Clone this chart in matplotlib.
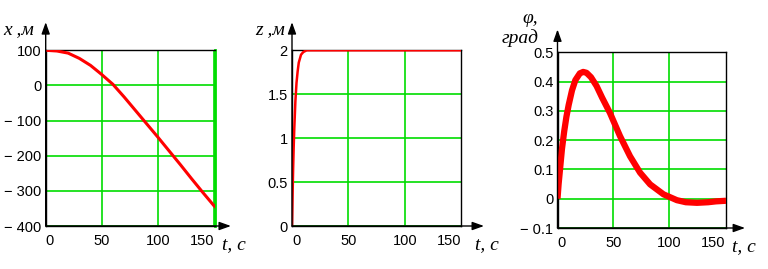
import numpy as np
import matplotlib.pyplot as plt

# x(t), m
t_x = [0, 10, 20, 30, 40, 50, 60, 70, 80, 90, 100, 110, 120, 130, 140, 150, 151]
x_val = [100, 98, 92, 77, 57, 31, 3, -33, -71, -109, -147, -186, -225, -265, -304, -342, -345]

# z(t), m
t_z = [0, 0.5, 1, 1.5, 2, 3, 4, 5, 6, 8, 10, 13, 16, 150]
z_val = [0, 0.35, 0.65, 0.9, 1.1, 1.42, 1.63, 1.76, 1.86, 1.95, 1.98, 2.0, 2.0, 2.0]

# phi(t), rad
t_phi = [0, 1, 2.5, 4, 6, 8, 10, 13, 16, 20, 23, 26, 30, 35, 40, 47, 56, 65, 74, 83,
         95, 107, 115, 125, 135, 142, 151]
phi_val = [0, 0.05, 0.11, 0.17, 0.23, 0.28, 0.32, 0.37, 0.405, 0.428, 0.433, 0.43,
           0.415, 0.385, 0.345, 0.293, 0.214, 0.145, 0.089, 0.049, 0.015, -0.005,
           -0.012, -0.014, -0.012, -0.009, -0.007]

t_ticks = [0, 50, 100, 150]
t_labels = ['0', '50', '100', '150']

x_ticks = [100, 0, -100, -200, -300, -400]
x_labels = ['100', '0', '\u2212 100', '\u2212 200', '\u2212 300', '\u2212 400']
z_ticks = [0, 0.5, 1, 1.5, 2]
z_labels = ['0', '0.5', '1', '1.5', '2']
phi_ticks = [-0.1, 0, 0.1, 0.2, 0.3, 0.4, 0.5]
phi_labels = ['\u2212 0.1', '0', '0.1', '0.2', '0.3', '0.4', '0.5']

GREEN = '#00dd00'
RED = '#ff0000'
W, H = 768, 269

fig = plt.figure(figsize=(7.68, 2.69), dpi=100)


def px_axes(left, right, top, bottom):
    return fig.add_axes([left / W, 1 - bottom / H, (right - left) / W, (bottom - top) / H])


def style(ax, xlim, ylim, yticks, ylabels, xtip, ytip):
    ax.set_xlim(*xlim)
    ax.set_ylim(*ylim)
    ax.set_xticks(t_ticks, t_labels)
    ax.set_yticks(yticks, ylabels)
    ax.tick_params(length=0, labelsize=10.5)
    ax.tick_params(axis='x', pad=6)
    ax.tick_params(axis='y', pad=3)
    for lab in ax.get_xticklabels() + ax.get_yticklabels():
        lab.set_fontfamily('Liberation Sans')
    xl = ax.get_xticklabels()
    xl[0].set_ha('left')
    xl[-1].set_ha('right')
    ax.grid(True, color=GREEN, lw=1.2)
    for s in ax.spines.values():
        s.set_color('black')
        s.set_linewidth(1)
    arrow = dict(arrowstyle='-|>,head_length=0.7,head_width=0.25', color='black',
                 lw=1, shrinkA=0, shrinkB=0)
    ax.annotate('', xy=(0, ytip), xytext=(0, 0), xycoords='axes fraction',
                arrowprops=arrow, annotation_clip=False)
    ax.annotate('', xy=(xtip, 0), xytext=(0, 0), xycoords='axes fraction',
                arrowprops=arrow, annotation_clip=False)


lab_font = dict(family='Liberation Serif', style='italic', size=14, va='baseline')

# panel 1: x(t)
ax1 = px_axes(45.7, 215, 50.3, 226)
ax1.plot(t_x, x_val, color=RED, lw=2.2, zorder=3)
style(ax1, (0, 151), (-400, 100), x_ticks, x_labels, 1.094, 1.16)
ax1.spines['right'].set_color(GREEN)
ax1.spines['right'].set_linewidth(2)
fig.text(3 / W, 1 - 34 / H, 'x ,м', **lab_font)
fig.text(222 / W, 1 - 249 / H, 't, c', **lab_font)

# panel 2: z(t)
ax2 = px_axes(292, 461.3, 50.3, 226)
ax2.plot(t_z, z_val, color=RED, lw=1.8, zorder=3)
style(ax2, (0, 150), (0, 2), z_ticks, z_labels, 1.134, 1.16)
ax2.xaxis.get_gridlines()[-1].set_visible(False)
fig.text(255 / W, 1 - 34 / H, 'z ,м', **lab_font)
fig.text(475 / W, 1 - 249 / H, 't, c', **lab_font)

# panel 3: phi(t)
ax3 = px_axes(557.5, 726, 52.3, 228)
ax3.plot(t_phi, phi_val, color=RED, lw=4.5, zorder=3, solid_capstyle='butt')
style(ax3, (0, 151), (-0.1, 0.5), phi_ticks, phi_labels, 1.113, 1.13)
ax3.xaxis.get_gridlines()[-1].set_visible(False)
fig.text(522 / W, 1 - 23 / H, 'φ,', **lab_font)
fig.text(502 / W, 1 - 43 / H, 'град', **lab_font)
fig.text(732 / W, 1 - 251 / H, 't, c', **lab_font)

fig.savefig('out.png', dpi=100)
